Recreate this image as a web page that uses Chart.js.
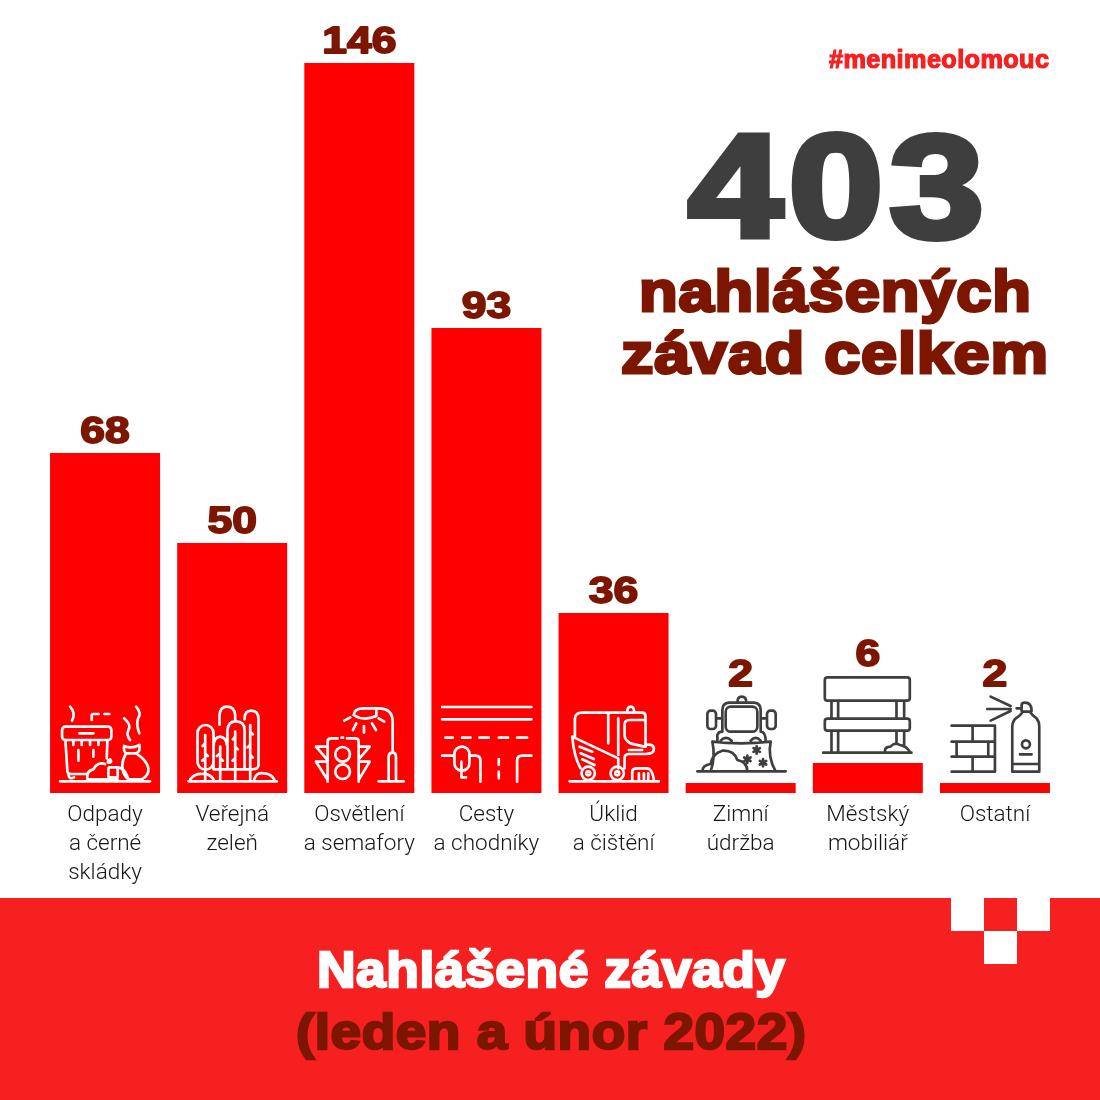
<!DOCTYPE html>
<html lang="cs"><head><meta charset="utf-8">
<script src="https://cdn.jsdelivr.net/npm/chart.js@4"></script>
<style>
html,body{margin:0;padding:0;background:#fff;width:1100px;height:1100px;overflow:hidden}
#wrap{position:relative;width:1100px;height:1100px}
canvas{position:absolute;left:0;top:0}
.t{position:absolute;white-space:nowrap;line-height:1;font-family:"Liberation Sans";font-weight:700;transform-origin:0 0;paint-order:stroke fill}
.b{position:absolute}
</style></head><body>
<div id="wrap">
<canvas id="c" width="1100" height="1100"></canvas>
<div class="b" style="left:0;top:898px;width:1100px;height:202px;background:#f62020"></div>
<div class="b" style="left:951px;top:898px;width:33px;height:33px;background:#fff"></div>
<div class="b" style="left:1017px;top:898px;width:33px;height:33px;background:#fff"></div>
<div class="b" style="left:984px;top:931px;width:33px;height:33px;background:#fff"></div>
</div>
<script>
const categories=[["Odpady","a černé","skládky"],["Veřejná","zeleň"],["Osvětlení","a semafory"],["Cesty","a chodníky"],["Úklid","a čištění"],["Zimní","údržba"],["Městský","mobiliář"],["Ostatní"]];
const values=[68,50,146,93,36,2,6,2];
const headline="403";

const RED="#ff0000",DARK="#7d1600",GREY="#3e3e3e",WHITE="#ffffff";
const circle=(x,y,r)=>`M${x-r} ${y}a${r} ${r} 0 1 0 ${2*r} 0a${r} ${r} 0 1 0 ${-2*r} 0`;
const rrect=(x,y,w,h,r)=>`M${x+r} ${y}h${w-2*r}a${r} ${r} 0 0 1 ${r} ${r}v${h-2*r}a${r} ${r} 0 0 1 ${-r} ${r}h${-(w-2*r)}a${r} ${r} 0 0 1 ${-r} ${-r}v${-(h-2*r)}a${r} ${r} 0 0 1 ${r} ${-r}z`;
const star=(x,y,r)=>`M${x} ${y-r}V${y+r}M${x-r*.87} ${y-r*.5}L${x+r*.87} ${y+r*.5}M${x-r*.87} ${y+r*.5}L${x+r*.87} ${y-r*.5}`;
/* Decorative pictograms, authored in 3x px; ox/oy = bar centre & baseline in that space */
const icons=[
{ox:165,oy:309,c:WHITE,d:"M30 274H300"+rrect(36,110,148,40,10)+"M88 130H130M46 150L52 245Q54 252 62 252H108M172 150L170 205M70 150V165M95 150V165M120 150V165M145 150V165M85 180V212M130 180V200M55 255Q58 270 72 262M112 268Q108 242 130 238Q142 215 165 222M205 232Q225 235 235 268M180 208Q170 215 175 218Q188 218 180 208"+rrect(175,232,28,30,4)+"M203 268H112M60 50Q78 68 66 92M125 90V76Q125 72 130 72H146M163 72H178M258 50Q276 70 264 85Q258 105 268 130M222 85Q245 105 235 120Q228 135 240 150M228 190Q205 230 228 262Q232 268 240 268H275Q298 255 295 235Q290 210 258 190M228 190H258M222 168Q245 178 268 165Q272 185 258 190M222 168Q220 185 228 190"},
{ox:546,oy:309,c:WHITE,d:"M415 274H680"+rrect(442,105,48,134,24)+"M490 150V238H530M508 104V75Q510 50 530 50Q553 50 555 75V94M532 120Q534 94 557 94Q583 94 583 120V238H532ZM583 88Q583 62 603 62Q625 62 625 88V225Q625 238 605 238H583M490 170Q490 142 510 140Q528 142 530 165M465 135V268M510 170V268M555 125V268M600 105V268M465 160L457 168M465 190L473 198M465 205L456 212M510 190L500 198M510 205L518 212M555 140L548 148M555 170L563 178M555 205L547 212M600 125L608 133M600 165L592 172M600 195L608 203M420 268Q435 250 455 252Q478 250 490 268M612 268Q620 245 640 250Q662 250 672 268"},
{ox:927,oy:309,c:WHITE,d:"M985 274H1060M1015 274V200Q1016 188 1026 188Q1037 188 1037 200V274M1027 188V95Q1027 55 985 55H940Q912 55 910 75Q940 95 978 78V62M882 92L900 82M908 120L918 100M941 108V128M965 100L977 120M985 85L1002 95M832 275V155Q832 145 842 145H862M890 145H915Q925 145 925 155V275M874 143H878"+circle(877,193,22)+circle(877,245,22)+"M832 170H797L830 208M832 215H797L832 270M925 170H958L925 208M925 215H958L925 270"},
{ox:183,oy:309,c:WHITE,d:"M50 51H318M50 88H318M60 143H82M110 143H135M162 143H190M220 143H248M275 143H305M50 197H85M132 197H150Q165 197 165 212V275"+rrect(87,170,45,72,22)+"M108 215V262H122M220 207V225M220 245V265M275 275V212Q275 197 290 197H318"},
{ox:564,oy:309,c:WHITE,d:"M432 274H700M448 140V85Q450 68 470 68H650Q660 68 660 80V170M548 72V160M578 85V195M605 68Q605 50 615 50Q626 50 626 68M655 90H612Q597 90 597 105V135Q597 150 615 160L655 170M440 140L578 205V235M440 140Q445 200 465 235M462 170L500 185M465 190L505 207M470 208L507 225"+circle(488,250,20)+circle(488,250,6)+circle(575,250,20)+circle(575,250,6)+"M620 270V245Q620 235 635 235H665Q680 235 685 270M640 250V270M655 250V270M668 250V270M597 235V205Q597 192 610 192H660Q685 192 685 178Q685 160 660 165M610 180H650"},
{ox:945,oy:309,c:GREY,d:"M815 244H1080M855 244Q870 200 860 155Q945 165 1035 155Q1025 200 1050 244M875 155V135Q878 125 890 125V60Q890 40 910 38H985Q1005 40 1005 60V125Q1020 125 1020 155"+rrect(900,50,95,75,15)+"M935 38Q935 20 948 20Q962 20 962 38"+rrect(845,62,26,55,10)+rrect(1024,62,26,55,10)+"M871 85H890M1005 85H1024M885 152Q900 135 918 152M975 152Q990 135 1005 152M830 244Q830 225 855 222Q860 190 890 182Q925 180 935 210Q965 215 965 244"+star(993,180,11)+star(965,208,11)+star(1012,218,11)},
{ox:204,oy:459,c:GREY,d:rrect(75,112,255,70,8)+rrect(75,236,255,36,8)+"M95 182V236M115 182V236M290 182V236M313 182V236M95 272V338M115 272V338M290 272V312M313 272V320M70 338H335M255 335Q255 320 272 320Q285 305 300 315Q320 318 330 335"},
{ox:585,oy:459,c:GREY,d:"M455 257H585V395H455M455 305H585M455 350H585M518 257V305M470 305V350M565 305V350M518 350V395M637 395V260Q637 240 655 230Q665 222 668 215H690Q695 225 710 235Q718 245 718 260V395ZM637 372H718M665 213V195Q665 188 675 188Q695 188 695 213M650 205H665"+circle(678,313,12)+"M660 343H695M572 170L632 198M562 207H632M572 242L632 213"}
];

const decor={id:"decor",afterDatasetsDraw(chart){
  const {ctx,scales:{x,y}}=chart,base=y.getPixelForValue(0);
  values.forEach((v,i)=>{
    const cx=x.getPixelForValue(i),top=y.getPixelForValue(v);
    const ic=icons[i];
    ctx.save();ctx.translate(cx,base);ctx.scale(1/3,1/3);ctx.translate(-ic.ox,-ic.oy);
    ctx.strokeStyle=ic.c;ctx.lineWidth=8;ctx.lineCap="round";ctx.lineJoin="round";
    ctx.stroke(new Path2D(ic.d));ctx.restore();
    const lift=v<10?96:9.5;
    ctx.save();ctx.translate(cx,top-lift-1);ctx.scale(1.2,1);
    ctx.font='700 37px "Liberation Sans"';ctx.textAlign="center";ctx.textBaseline="alphabetic";
    ctx.fillStyle=DARK;ctx.strokeStyle=DARK;ctx.lineWidth=1.8;ctx.lineJoin="round";
    ctx.strokeText(String(v),0,0);ctx.fillText(String(v),0,0);ctx.restore();
  });
}};

new Chart(document.getElementById("c"),{type:"bar",plugins:[decor],
 data:{labels:categories,datasets:[{data:values,backgroundColor:RED,borderWidth:0,barPercentage:110/127.125,categoryPercentage:1}]},
 options:{responsive:false,animation:false,devicePixelRatio:1,
  layout:{padding:{left:41.5,right:41.5,top:63,bottom:0}},
  plugins:{legend:{display:false},tooltip:{enabled:false},title:{display:false}},
  scales:{
   x:{grid:{display:false},border:{display:false},
      afterFit(s){s.height=307},
      ticks:{autoSkip:false,maxRotation:0,minRotation:0,padding:0,color:"#161616",
             font:{family:"Roboto",size:22.5,weight:"300",lineHeight:1.29}}},
   y:{display:false,min:0,max:146}
  }}});

function place(text,left,right,baseline,size,color,stroke,spacing){
  const s=document.createElement("span");s.className="t";s.textContent=text;
  s.style.fontSize=size+"px";s.style.color=color;
  if(spacing)s.style.letterSpacing=spacing+"px";
  if(stroke)s.style.webkitTextStroke=stroke+"px "+color;
  s.style.left=left+"px";s.style.top=(baseline-.8465*size)+"px";
  document.getElementById("wrap").appendChild(s);
  const w=s.getBoundingClientRect().width-(spacing||0);
  s.style.transform="scaleX("+((right-left)/w)+")";
}
place("#menimeolomouc",829,1049,68,25,"#f62020",1.2,.4);
place(headline,688,984,238,146,GREY,6,5);
place("nahlášených",639,1031,311,57,DARK,3,.8);
place("závad celkem",621,1048,373,57,DARK,3,.8);
place("Nahlášené závady",317,785,987,50,"#ffffff",2.4,.5);
place("(leden a únor 2022)",296,806,1049,50,DARK,2.4,.5);
</script>
</body></html>
